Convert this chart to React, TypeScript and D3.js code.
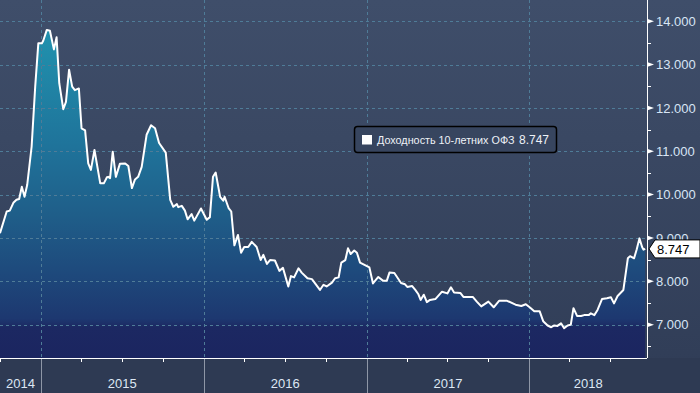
import * as d3 from "d3";

// 10-year OFZ yield, weekly-ish readings
const dates = [
  "2014-10-01", "2014-10-16", "2014-10-23", "2014-10-31", "2014-11-07", "2014-11-13", "2014-11-19", "2014-11-25",
  "2014-12-01", "2014-12-11", "2014-12-19", "2014-12-26", "2015-01-03", "2015-01-06", "2015-01-14", "2015-01-21",
  "2015-01-30", "2015-02-05", "2015-02-11", "2015-02-20", "2015-02-26", "2015-03-05", "2015-03-12", "2015-03-18",
  "2015-03-27", "2015-04-02", "2015-04-10", "2015-04-17", "2015-04-23", "2015-05-01", "2015-05-14", "2015-05-22",
  "2015-05-29", "2015-06-01", "2015-06-05", "2015-06-11", "2015-06-18", "2015-06-27", "2015-07-09", "2015-07-16",
  "2015-07-24", "2015-07-31", "2015-08-07", "2015-08-15", "2015-08-26", "2015-09-05", "2015-09-14", "2015-09-23",
  "2015-10-08", "2015-10-18", "2015-10-25", "2015-11-02", "2015-11-05", "2015-11-13", "2015-11-20", "2015-11-26",
  "2015-12-05", "2015-12-11", "2015-12-26", "2016-01-08", "2016-01-15", "2016-01-22", "2016-01-28", "2016-02-07",
  "2016-02-14", "2016-02-17", "2016-02-26", "2016-03-03", "2016-03-10", "2016-03-18", "2016-03-25", "2016-04-01",
  "2016-04-10", "2016-04-18", "2016-04-29", "2016-05-08", "2016-05-14", "2016-05-22", "2016-05-29", "2016-06-09",
  "2016-06-19", "2016-06-27", "2016-07-09", "2016-07-15", "2016-07-22", "2016-08-01", "2016-08-08", "2016-08-21",
  "2016-08-31", "2016-09-18", "2016-09-26", "2016-10-03", "2016-10-15", "2016-10-22", "2016-10-30", "2016-11-05",
  "2016-11-14", "2016-11-20", "2016-11-26", "2016-12-04", "2016-12-10", "2016-12-17", "2017-01-07", "2017-01-15",
  "2017-01-27", "2017-02-07", "2017-02-15", "2017-02-21", "2017-03-04", "2017-03-19", "2017-03-28", "2017-04-02",
  "2017-04-13", "2017-04-20", "2017-04-27", "2017-05-02", "2017-05-09", "2017-05-16", "2017-05-23", "2017-06-04",
  "2017-06-19", "2017-07-01", "2017-07-09", "2017-07-16", "2017-07-30", "2017-08-06", "2017-08-27", "2017-09-05",
  "2017-09-15", "2017-10-01", "2017-10-13", "2017-10-25", "2017-11-12", "2017-12-01", "2017-12-14", "2017-12-24",
  "2018-01-03", "2018-01-12", "2018-01-24", "2018-02-01", "2018-02-11", "2018-02-19", "2018-02-26", "2018-03-05",
  "2018-03-13", "2018-03-20", "2018-03-28", "2018-04-04", "2018-04-10", "2018-04-18", "2018-04-27", "2018-05-04",
  "2018-05-14", "2018-05-19", "2018-05-27", "2018-06-03", "2018-06-13", "2018-06-24", "2018-07-03", "2018-07-10",
  "2018-07-18", "2018-07-31", "2018-08-10", "2018-08-15", "2018-08-24", "2018-08-30", "2018-09-05", "2018-09-11",
  "2018-09-14", "2018-09-18",
];

const values = [
  9.11, 9.61, 9.63, 9.81, 9.88, 9.9, 10.18, 9.95,
  10.22, 11.11, 12.49, 13.49, 13.49, 13.55, 13.8, 13.78,
  13.35, 13.63, 12.57, 11.97, 12.14, 12.88, 12.49, 12.41,
  12.45, 11.53, 11.48, 10.72, 10.57, 11.03, 10.26, 10.26,
  10.4, 10.41, 10.38, 10.99, 10.41, 10.71, 10.72, 10.66,
  10.15, 10.35, 10.41, 10.64, 11.38, 11.6, 11.53, 11.19,
  10.97, 9.88, 9.72, 9.78, 9.71, 9.74, 9.63, 9.43,
  9.55, 9.4, 9.68, 9.42, 9.48, 10.41, 10.51, 9.95,
  9.86, 9.95, 9.69, 9.61, 8.83, 9.07, 8.66, 8.79,
  8.79, 8.91, 8.79, 8.49, 8.61, 8.4, 8.49, 8.48,
  8.24, 8.31, 7.88, 8.12, 8.09, 8.3, 8.2, 8.07,
  8.05, 7.8, 7.92, 7.88, 7.97, 8.07, 8.09, 8.43,
  8.49, 8.76, 8.63, 8.71, 8.66, 8.43, 8.32, 7.95,
  8.1, 8.01, 8.01, 8.2, 8.19, 7.96, 7.93, 7.87,
  7.89, 7.8, 7.7, 7.57, 7.69, 7.52, 7.57, 7.59,
  7.76, 7.72, 7.86, 7.74, 7.73, 7.64, 7.64, 7.53,
  7.42, 7.53, 7.4, 7.55, 7.55, 7.46, 7.43, 7.47,
  7.39, 7.31, 7.31, 7.08, 6.98, 6.94, 6.98, 6.97,
  7.03, 6.92, 6.98, 7.0, 7.38, 7.2, 7.2, 7.22,
  7.22, 7.26, 7.22, 7.34, 7.59, 7.61, 7.63, 7.49,
  7.66, 7.8, 8.53, 8.58, 8.53, 8.74, 8.99, 8.79,
  8.73, 8.747,
];

const seriesName = "Доходность 10-летних ОФЗ";
const yTicks = [7, 8, 9, 10, 11, 12, 13, 14];
const yMinorTicks = [6.5, 7.5, 8.5, 9.5, 10.5, 11.5, 12.5, 13.5];
const years = [2014, 2015, 2016, 2017, 2018];

const W = 700;
const H = 393;
const plotRight = 647;
const plotBottom = 358;
const font = "'Liberation Sans', Arial, sans-serif";

const parse = d3.timeParse("%Y-%m-%d");

const App = () => {
  const data = dates.map((d, i) => ({ date: parse(d) as Date, value: values[i] }));

  const x = d3
    .scaleTime()
    .domain([new Date(2014, 9, 1), new Date(2018, 8, 22)])
    .range([0, plotRight]);
  const y = d3.scaleLinear().domain([6.23, 14.49]).range([plotBottom, 0]);

  const area = d3
    .area<{ date: Date; value: number }>()
    .x((d) => x(d.date))
    .y0(plotBottom)
    .y1((d) => y(d.value));
  const line = d3
    .line<{ date: Date; value: number }>()
    .x((d) => x(d.date))
    .y((d) => y(d.value));

  const quarterTicks = x.ticks(d3.timeMonth.every(3) as d3.TimeInterval);
  const yearStarts = years.slice(1).map((yr) => new Date(yr, 0, 1));

  const yearLabels = years.map((yr) => {
    const a = Math.max(0, x(new Date(yr, 0, 1)));
    const b = Math.min(plotRight, x(new Date(yr + 1, 0, 1)));
    return { label: String(yr), cx: (a + b) / 2 };
  });

  const last = data[data.length - 1];
  const ly = y(last.value);

  return (
    <svg
      width={W}
      height={H}
      style={{ position: "absolute", left: 0, top: 0, display: "block" }}
    >
      <defs>
        <linearGradient id="bg" x1="0" y1="0" x2="0" y2={H} gradientUnits="userSpaceOnUse">
          <stop offset="0" stopColor="#3f4e6a" />
          <stop offset="0.35" stopColor="#3a4863" />
          <stop offset="0.9" stopColor="#313e58" />
          <stop offset="1" stopColor="#2e3a53" />
        </linearGradient>
        <linearGradient id="fill" x1="0" y1="0" x2="0" y2={plotBottom} gradientUnits="userSpaceOnUse">
          <stop offset="0" stopColor="#2398b3" />
          <stop offset="0.15" stopColor="#208caa" />
          <stop offset="0.4" stopColor="#1f749b" />
          <stop offset="0.6" stopColor="#1f5e89" />
          <stop offset="0.75" stopColor="#1e4b7d" />
          <stop offset="0.89" stopColor="#1d3870" />
          <stop offset="0.915" stopColor="#1c2862" />
          <stop offset="1" stopColor="#1b2560" />
        </linearGradient>
      </defs>

      <rect x={0} y={0} width={W} height={H} fill="url(#bg)" />
      <rect x={0} y={plotBottom} width={W} height={H - plotBottom} fill="#2e3a53" />

      <path d={area(data) ?? ""} fill="url(#fill)" />

      {/* grid */}
      <g stroke="#4f7c98" strokeWidth={1} strokeDasharray="3,3">
        {yTicks.map((t) => (
          <line key={t} x1={0} x2={plotRight} y1={Math.round(y(t)) + 0.5} y2={Math.round(y(t)) + 0.5} />
        ))}
        {yearStarts.map((d) => (
          <line key={+d} x1={Math.round(x(d)) + 0.5} x2={Math.round(x(d)) + 0.5} y1={0} y2={plotBottom} />
        ))}
      </g>

      <path d={line(data) ?? ""} fill="none" stroke="#ffffff" strokeWidth={2} strokeLinejoin="round" />

      {/* bottom axis */}
      <line x1={0} x2={plotRight} y1={plotBottom + 0.5} y2={plotBottom + 0.5} stroke="#ffffff" />
      {quarterTicks.map((d) => (
        <line
          key={+d}
          x1={Math.round(x(d)) + 0.5}
          x2={Math.round(x(d)) + 0.5}
          y1={plotBottom}
          y2={plotBottom + 4}
          stroke="#ffffff"
        />
      ))}
      {yearStarts.map((d) => (
        <line
          key={+d}
          x1={Math.round(x(d)) + 0.5}
          x2={Math.round(x(d)) + 0.5}
          y1={plotBottom + 1}
          y2={H}
          stroke="#8e96a6"
        />
      ))}
      {yearLabels.map((l) => (
        <text
          key={l.label}
          x={l.cx}
          y={388}
          textAnchor="middle"
          fontFamily={font}
          fontSize={13}
          fill="#dde7f4"
        >
          {l.label}
        </text>
      ))}

      {/* right axis */}
      <line x1={plotRight + 0.5} x2={plotRight + 0.5} y1={0} y2={plotBottom} stroke="#ffffff" />
      {yMinorTicks.map((t) => (
        <line key={t} x1={plotRight} x2={plotRight + 4} y1={Math.round(y(t)) + 0.5} y2={Math.round(y(t)) + 0.5} stroke="#ffffff" />
      ))}
      {yTicks.map((t) => (
        <g key={t} transform={`translate(${plotRight},${y(t)})`}>
          <path d="M0,-2.5 L7,0 L0,2.5 Z" fill="#ffffff" />
          <text x={9} dy="0.36em" fontFamily={font} fontSize={13} fill="#d8e5f5">
            {d3.format(".3f")(t)}
          </text>
        </g>
      ))}

      {/* last value marker */}
      <g transform={`translate(${plotRight + 2},${ly})`}>
        <path
          d="M0,0 L6,-9 L51,-9 L51,9 L6,9 Z"
          fill="#ffffff"
          stroke="#000000"
          strokeWidth={1}
        />
        <text x={8} dy="0.36em" fontFamily={font} fontSize={13} fill="#000000">
          {d3.format(".3f")(last.value)}
        </text>
      </g>

      {/* legend */}
      <g>
        <rect x={354.5} y={126.5} width={202} height={26} rx={3} fill="#37455f" stroke="#000000" strokeWidth={1.5} />
        <rect x={362} y={135} width={10} height={9.5} fill="#ffffff" />
        <text x={377} y={144} fontFamily={font} fontSize={10.8} fill="#eef2f7">
          <tspan>{seriesName}</tspan>
          <tspan x={519} fontSize={12}>{d3.format(".3f")(last.value)}</tspan>
        </text>
      </g>
    </svg>
  );
};

export default App;
